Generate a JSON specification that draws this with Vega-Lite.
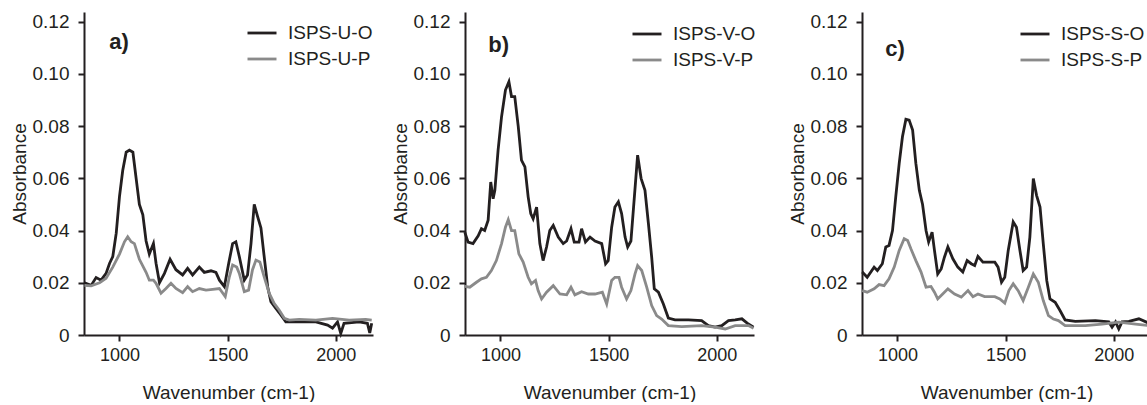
{
  "$schema": "https://vega.github.io/schema/vega-lite/v6.json",
  "background": "white",
  "padding": {"left": 10, "top": 12, "right": 0, "bottom": 0},
  "autosize": {"type": "pad"},
  "config": {
    "view": {"stroke": null},
    "font": "Liberation Sans",
    "axis": {"grid": false, "domainColor": "#231f20", "tickColor": "#231f20", "domainWidth": 2, "tickWidth": 2, "tickSize": 6,
      "labelFont": "Liberation Sans", "labelFontSize": 18, "labelColor": "#231f20",
      "titleFont": "Liberation Sans", "titleFontSize": 19, "titleFontWeight": "normal", "titleColor": "#231f20"},
    "axisX": {"labelPadding": 5, "titlePadding": 19},
    "axisY": {"labelPadding": 9, "titlePadding": 3, "labelFontSize": 19},
    "legend": {"symbolType": "stroke", "symbolSize": 841, "symbolStrokeWidth": 2.8, "labelFont": "Liberation Sans", "labelFontSize": 19,
      "labelColor": "#231f20", "labelOffset": 10, "rowPadding": -3, "padding": 0}
  },
  "datasets": {
    "a": [
      {"wn":838,"abs":0.0200,"sample":"ISPS-U-O"},{"wn":869,"abs":0.0190,"sample":"ISPS-U-O"},{"wn":892,"abs":0.0220,"sample":"ISPS-U-O"},{"wn":915,"abs":0.0210,"sample":"ISPS-U-O"},{"wn":938,"abs":0.0236,"sample":"ISPS-U-O"},{"wn":954,"abs":0.0274,"sample":"ISPS-U-O"},{"wn":969,"abs":0.0300,"sample":"ISPS-U-O"},{"wn":985,"abs":0.0390,"sample":"ISPS-U-O"},{"wn":1000,"abs":0.0530,"sample":"ISPS-U-O"},{"wn":1015,"abs":0.0630,"sample":"ISPS-U-O"},{"wn":1031,"abs":0.0700,"sample":"ISPS-U-O"},{"wn":1046,"abs":0.0708,"sample":"ISPS-U-O"},{"wn":1062,"abs":0.0700,"sample":"ISPS-U-O"},{"wn":1077,"abs":0.0600,"sample":"ISPS-U-O"},{"wn":1092,"abs":0.0500,"sample":"ISPS-U-O"},{"wn":1108,"abs":0.0460,"sample":"ISPS-U-O"},{"wn":1123,"abs":0.0360,"sample":"ISPS-U-O"},{"wn":1138,"abs":0.0310,"sample":"ISPS-U-O"},{"wn":1157,"abs":0.0350,"sample":"ISPS-U-O"},{"wn":1169,"abs":0.0275,"sample":"ISPS-U-O"},{"wn":1185,"abs":0.0200,"sample":"ISPS-U-O"},{"wn":1208,"abs":0.0236,"sample":"ISPS-U-O"},{"wn":1234,"abs":0.0290,"sample":"ISPS-U-O"},{"wn":1261,"abs":0.0250,"sample":"ISPS-U-O"},{"wn":1292,"abs":0.0230,"sample":"ISPS-U-O"},{"wn":1315,"abs":0.0255,"sample":"ISPS-U-O"},{"wn":1338,"abs":0.0230,"sample":"ISPS-U-O"},{"wn":1369,"abs":0.0260,"sample":"ISPS-U-O"},{"wn":1392,"abs":0.0240,"sample":"ISPS-U-O"},{"wn":1423,"abs":0.0246,"sample":"ISPS-U-O"},{"wn":1446,"abs":0.0240,"sample":"ISPS-U-O"},{"wn":1462,"abs":0.0210,"sample":"ISPS-U-O"},{"wn":1485,"abs":0.0185,"sample":"ISPS-U-O"},{"wn":1505,"abs":0.0275,"sample":"ISPS-U-O"},{"wn":1523,"abs":0.0350,"sample":"ISPS-U-O"},{"wn":1538,"abs":0.0357,"sample":"ISPS-U-O"},{"wn":1554,"abs":0.0300,"sample":"ISPS-U-O"},{"wn":1577,"abs":0.0210,"sample":"ISPS-U-O"},{"wn":1592,"abs":0.0230,"sample":"ISPS-U-O"},{"wn":1608,"abs":0.0350,"sample":"ISPS-U-O"},{"wn":1623,"abs":0.0500,"sample":"ISPS-U-O"},{"wn":1638,"abs":0.0455,"sample":"ISPS-U-O"},{"wn":1654,"abs":0.0410,"sample":"ISPS-U-O"},{"wn":1669,"abs":0.0300,"sample":"ISPS-U-O"},{"wn":1685,"abs":0.0185,"sample":"ISPS-U-O"},{"wn":1700,"abs":0.0128,"sample":"ISPS-U-O"},{"wn":1723,"abs":0.0102,"sample":"ISPS-U-O"},{"wn":1746,"abs":0.0077,"sample":"ISPS-U-O"},{"wn":1769,"abs":0.0050,"sample":"ISPS-U-O"},{"wn":1831,"abs":0.0050,"sample":"ISPS-U-O"},{"wn":1908,"abs":0.0050,"sample":"ISPS-U-O"},{"wn":1962,"abs":0.0038,"sample":"ISPS-U-O"},{"wn":1985,"abs":0.0026,"sample":"ISPS-U-O"},{"wn":2008,"abs":0.0050,"sample":"ISPS-U-O"},{"wn":2023,"abs":0.0006,"sample":"ISPS-U-O"},{"wn":2038,"abs":0.0045,"sample":"ISPS-U-O"},{"wn":2108,"abs":0.0050,"sample":"ISPS-U-O"},{"wn":2146,"abs":0.0045,"sample":"ISPS-U-O"},{"wn":2157,"abs":0.0008,"sample":"ISPS-U-O"},{"wn":2166,"abs":0.0045,"sample":"ISPS-U-O"},
      {"wn":838,"abs":0.0190,"sample":"ISPS-U-P"},{"wn":869,"abs":0.0188,"sample":"ISPS-U-P"},{"wn":908,"abs":0.0200,"sample":"ISPS-U-P"},{"wn":938,"abs":0.0217,"sample":"ISPS-U-P"},{"wn":969,"abs":0.0260,"sample":"ISPS-U-P"},{"wn":1000,"abs":0.0310,"sample":"ISPS-U-P"},{"wn":1023,"abs":0.0357,"sample":"ISPS-U-P"},{"wn":1038,"abs":0.0376,"sample":"ISPS-U-P"},{"wn":1054,"abs":0.0357,"sample":"ISPS-U-P"},{"wn":1069,"abs":0.0350,"sample":"ISPS-U-P"},{"wn":1092,"abs":0.0290,"sample":"ISPS-U-P"},{"wn":1123,"abs":0.0240,"sample":"ISPS-U-P"},{"wn":1138,"abs":0.0210,"sample":"ISPS-U-P"},{"wn":1157,"abs":0.0210,"sample":"ISPS-U-P"},{"wn":1169,"abs":0.0198,"sample":"ISPS-U-P"},{"wn":1192,"abs":0.0160,"sample":"ISPS-U-P"},{"wn":1215,"abs":0.0178,"sample":"ISPS-U-P"},{"wn":1238,"abs":0.0198,"sample":"ISPS-U-P"},{"wn":1261,"abs":0.0178,"sample":"ISPS-U-P"},{"wn":1292,"abs":0.0162,"sample":"ISPS-U-P"},{"wn":1315,"abs":0.0185,"sample":"ISPS-U-P"},{"wn":1338,"abs":0.0166,"sample":"ISPS-U-P"},{"wn":1369,"abs":0.0178,"sample":"ISPS-U-P"},{"wn":1400,"abs":0.0172,"sample":"ISPS-U-P"},{"wn":1431,"abs":0.0175,"sample":"ISPS-U-P"},{"wn":1462,"abs":0.0178,"sample":"ISPS-U-P"},{"wn":1489,"abs":0.0147,"sample":"ISPS-U-P"},{"wn":1508,"abs":0.0223,"sample":"ISPS-U-P"},{"wn":1523,"abs":0.0268,"sample":"ISPS-U-P"},{"wn":1542,"abs":0.0260,"sample":"ISPS-U-P"},{"wn":1554,"abs":0.0236,"sample":"ISPS-U-P"},{"wn":1577,"abs":0.0166,"sample":"ISPS-U-P"},{"wn":1597,"abs":0.0172,"sample":"ISPS-U-P"},{"wn":1615,"abs":0.0250,"sample":"ISPS-U-P"},{"wn":1631,"abs":0.0287,"sample":"ISPS-U-P"},{"wn":1649,"abs":0.0280,"sample":"ISPS-U-P"},{"wn":1669,"abs":0.0223,"sample":"ISPS-U-P"},{"wn":1692,"abs":0.0160,"sample":"ISPS-U-P"},{"wn":1715,"abs":0.0121,"sample":"ISPS-U-P"},{"wn":1738,"abs":0.0096,"sample":"ISPS-U-P"},{"wn":1762,"abs":0.0064,"sample":"ISPS-U-P"},{"wn":1785,"abs":0.0057,"sample":"ISPS-U-P"},{"wn":1831,"abs":0.0060,"sample":"ISPS-U-P"},{"wn":1908,"abs":0.0057,"sample":"ISPS-U-P"},{"wn":1985,"abs":0.0064,"sample":"ISPS-U-P"},{"wn":2062,"abs":0.0057,"sample":"ISPS-U-P"},{"wn":2138,"abs":0.0060,"sample":"ISPS-U-P"},{"wn":2166,"abs":0.0057,"sample":"ISPS-U-P"}
    ],
    "b": [
      {"wn":835,"abs":0.0394,"sample":"ISPS-V-O"},{"wn":850,"abs":0.0356,"sample":"ISPS-V-O"},{"wn":873,"abs":0.0350,"sample":"ISPS-V-O"},{"wn":897,"abs":0.0380,"sample":"ISPS-V-O"},{"wn":912,"abs":0.0407,"sample":"ISPS-V-O"},{"wn":927,"abs":0.0400,"sample":"ISPS-V-O"},{"wn":943,"abs":0.0440,"sample":"ISPS-V-O"},{"wn":955,"abs":0.0586,"sample":"ISPS-V-O"},{"wn":966,"abs":0.0522,"sample":"ISPS-V-O"},{"wn":974,"abs":0.0554,"sample":"ISPS-V-O"},{"wn":989,"abs":0.0708,"sample":"ISPS-V-O"},{"wn":1005,"abs":0.0836,"sample":"ISPS-V-O"},{"wn":1023,"abs":0.0938,"sample":"ISPS-V-O"},{"wn":1039,"abs":0.0970,"sample":"ISPS-V-O"},{"wn":1051,"abs":0.0913,"sample":"ISPS-V-O"},{"wn":1066,"abs":0.0913,"sample":"ISPS-V-O"},{"wn":1082,"abs":0.0800,"sample":"ISPS-V-O"},{"wn":1097,"abs":0.0670,"sample":"ISPS-V-O"},{"wn":1113,"abs":0.0644,"sample":"ISPS-V-O"},{"wn":1128,"abs":0.0529,"sample":"ISPS-V-O"},{"wn":1140,"abs":0.0465,"sample":"ISPS-V-O"},{"wn":1151,"abs":0.0445,"sample":"ISPS-V-O"},{"wn":1167,"abs":0.0490,"sample":"ISPS-V-O"},{"wn":1182,"abs":0.0350,"sample":"ISPS-V-O"},{"wn":1197,"abs":0.0285,"sample":"ISPS-V-O"},{"wn":1213,"abs":0.0337,"sample":"ISPS-V-O"},{"wn":1228,"abs":0.0400,"sample":"ISPS-V-O"},{"wn":1244,"abs":0.0420,"sample":"ISPS-V-O"},{"wn":1267,"abs":0.0375,"sample":"ISPS-V-O"},{"wn":1290,"abs":0.0350,"sample":"ISPS-V-O"},{"wn":1306,"abs":0.0360,"sample":"ISPS-V-O"},{"wn":1326,"abs":0.0407,"sample":"ISPS-V-O"},{"wn":1341,"abs":0.0356,"sample":"ISPS-V-O"},{"wn":1363,"abs":0.0356,"sample":"ISPS-V-O"},{"wn":1375,"abs":0.0407,"sample":"ISPS-V-O"},{"wn":1393,"abs":0.0356,"sample":"ISPS-V-O"},{"wn":1414,"abs":0.0375,"sample":"ISPS-V-O"},{"wn":1437,"abs":0.0360,"sample":"ISPS-V-O"},{"wn":1468,"abs":0.0350,"sample":"ISPS-V-O"},{"wn":1486,"abs":0.0273,"sample":"ISPS-V-O"},{"wn":1498,"abs":0.0285,"sample":"ISPS-V-O"},{"wn":1514,"abs":0.0413,"sample":"ISPS-V-O"},{"wn":1529,"abs":0.0490,"sample":"ISPS-V-O"},{"wn":1545,"abs":0.0510,"sample":"ISPS-V-O"},{"wn":1560,"abs":0.0465,"sample":"ISPS-V-O"},{"wn":1576,"abs":0.0375,"sample":"ISPS-V-O"},{"wn":1588,"abs":0.0337,"sample":"ISPS-V-O"},{"wn":1603,"abs":0.0360,"sample":"ISPS-V-O"},{"wn":1619,"abs":0.0529,"sample":"ISPS-V-O"},{"wn":1634,"abs":0.0689,"sample":"ISPS-V-O"},{"wn":1650,"abs":0.0600,"sample":"ISPS-V-O"},{"wn":1668,"abs":0.0554,"sample":"ISPS-V-O"},{"wn":1684,"abs":0.0426,"sample":"ISPS-V-O"},{"wn":1699,"abs":0.0298,"sample":"ISPS-V-O"},{"wn":1711,"abs":0.0177,"sample":"ISPS-V-O"},{"wn":1730,"abs":0.0164,"sample":"ISPS-V-O"},{"wn":1753,"abs":0.0119,"sample":"ISPS-V-O"},{"wn":1776,"abs":0.0065,"sample":"ISPS-V-O"},{"wn":1807,"abs":0.0058,"sample":"ISPS-V-O"},{"wn":1869,"abs":0.0058,"sample":"ISPS-V-O"},{"wn":1930,"abs":0.0055,"sample":"ISPS-V-O"},{"wn":1961,"abs":0.0036,"sample":"ISPS-V-O"},{"wn":1992,"abs":0.0030,"sample":"ISPS-V-O"},{"wn":2023,"abs":0.0036,"sample":"ISPS-V-O"},{"wn":2054,"abs":0.0055,"sample":"ISPS-V-O"},{"wn":2085,"abs":0.0058,"sample":"ISPS-V-O"},{"wn":2116,"abs":0.0062,"sample":"ISPS-V-O"},{"wn":2146,"abs":0.0042,"sample":"ISPS-V-O"},{"wn":2170,"abs":0.0030,"sample":"ISPS-V-O"},
      {"wn":835,"abs":0.0186,"sample":"ISPS-V-P"},{"wn":858,"abs":0.0183,"sample":"ISPS-V-P"},{"wn":889,"abs":0.0202,"sample":"ISPS-V-P"},{"wn":912,"abs":0.0215,"sample":"ISPS-V-P"},{"wn":935,"abs":0.0221,"sample":"ISPS-V-P"},{"wn":958,"abs":0.0247,"sample":"ISPS-V-P"},{"wn":981,"abs":0.0285,"sample":"ISPS-V-P"},{"wn":1005,"abs":0.0350,"sample":"ISPS-V-P"},{"wn":1023,"abs":0.0413,"sample":"ISPS-V-P"},{"wn":1036,"abs":0.0442,"sample":"ISPS-V-P"},{"wn":1051,"abs":0.0400,"sample":"ISPS-V-P"},{"wn":1066,"abs":0.0400,"sample":"ISPS-V-P"},{"wn":1085,"abs":0.0311,"sample":"ISPS-V-P"},{"wn":1105,"abs":0.0279,"sample":"ISPS-V-P"},{"wn":1128,"abs":0.0221,"sample":"ISPS-V-P"},{"wn":1143,"abs":0.0196,"sample":"ISPS-V-P"},{"wn":1162,"abs":0.0209,"sample":"ISPS-V-P"},{"wn":1174,"abs":0.0170,"sample":"ISPS-V-P"},{"wn":1190,"abs":0.0138,"sample":"ISPS-V-P"},{"wn":1213,"abs":0.0164,"sample":"ISPS-V-P"},{"wn":1244,"abs":0.0189,"sample":"ISPS-V-P"},{"wn":1275,"abs":0.0157,"sample":"ISPS-V-P"},{"wn":1306,"abs":0.0154,"sample":"ISPS-V-P"},{"wn":1326,"abs":0.0183,"sample":"ISPS-V-P"},{"wn":1344,"abs":0.0154,"sample":"ISPS-V-P"},{"wn":1375,"abs":0.0166,"sample":"ISPS-V-P"},{"wn":1406,"abs":0.0157,"sample":"ISPS-V-P"},{"wn":1437,"abs":0.0157,"sample":"ISPS-V-P"},{"wn":1471,"abs":0.0164,"sample":"ISPS-V-P"},{"wn":1491,"abs":0.0119,"sample":"ISPS-V-P"},{"wn":1514,"abs":0.0209,"sample":"ISPS-V-P"},{"wn":1529,"abs":0.0221,"sample":"ISPS-V-P"},{"wn":1548,"abs":0.0221,"sample":"ISPS-V-P"},{"wn":1560,"abs":0.0183,"sample":"ISPS-V-P"},{"wn":1583,"abs":0.0138,"sample":"ISPS-V-P"},{"wn":1603,"abs":0.0170,"sample":"ISPS-V-P"},{"wn":1622,"abs":0.0234,"sample":"ISPS-V-P"},{"wn":1634,"abs":0.0266,"sample":"ISPS-V-P"},{"wn":1653,"abs":0.0247,"sample":"ISPS-V-P"},{"wn":1676,"abs":0.0183,"sample":"ISPS-V-P"},{"wn":1699,"abs":0.0113,"sample":"ISPS-V-P"},{"wn":1722,"abs":0.0074,"sample":"ISPS-V-P"},{"wn":1745,"abs":0.0061,"sample":"ISPS-V-P"},{"wn":1776,"abs":0.0036,"sample":"ISPS-V-P"},{"wn":1838,"abs":0.0032,"sample":"ISPS-V-P"},{"wn":1930,"abs":0.0036,"sample":"ISPS-V-P"},{"wn":1992,"abs":0.0030,"sample":"ISPS-V-P"},{"wn":2039,"abs":0.0023,"sample":"ISPS-V-P"},{"wn":2085,"abs":0.0036,"sample":"ISPS-V-P"},{"wn":2146,"abs":0.0036,"sample":"ISPS-V-P"},{"wn":2170,"abs":0.0026,"sample":"ISPS-V-P"}
    ],
    "c": [
      {"wn":837,"abs":0.0241,"sample":"ISPS-S-O"},{"wn":860,"abs":0.0221,"sample":"ISPS-S-O"},{"wn":892,"abs":0.0260,"sample":"ISPS-S-O"},{"wn":907,"abs":0.0247,"sample":"ISPS-S-O"},{"wn":930,"abs":0.0273,"sample":"ISPS-S-O"},{"wn":946,"abs":0.0337,"sample":"ISPS-S-O"},{"wn":961,"abs":0.0343,"sample":"ISPS-S-O"},{"wn":977,"abs":0.0400,"sample":"ISPS-S-O"},{"wn":992,"abs":0.0529,"sample":"ISPS-S-O"},{"wn":1008,"abs":0.0657,"sample":"ISPS-S-O"},{"wn":1023,"abs":0.0759,"sample":"ISPS-S-O"},{"wn":1039,"abs":0.0826,"sample":"ISPS-S-O"},{"wn":1054,"abs":0.0823,"sample":"ISPS-S-O"},{"wn":1070,"abs":0.0785,"sample":"ISPS-S-O"},{"wn":1085,"abs":0.0657,"sample":"ISPS-S-O"},{"wn":1101,"abs":0.0554,"sample":"ISPS-S-O"},{"wn":1116,"abs":0.0500,"sample":"ISPS-S-O"},{"wn":1132,"abs":0.0400,"sample":"ISPS-S-O"},{"wn":1144,"abs":0.0356,"sample":"ISPS-S-O"},{"wn":1160,"abs":0.0394,"sample":"ISPS-S-O"},{"wn":1171,"abs":0.0324,"sample":"ISPS-S-O"},{"wn":1186,"abs":0.0234,"sample":"ISPS-S-O"},{"wn":1202,"abs":0.0253,"sample":"ISPS-S-O"},{"wn":1217,"abs":0.0298,"sample":"ISPS-S-O"},{"wn":1233,"abs":0.0337,"sample":"ISPS-S-O"},{"wn":1256,"abs":0.0292,"sample":"ISPS-S-O"},{"wn":1279,"abs":0.0260,"sample":"ISPS-S-O"},{"wn":1302,"abs":0.0241,"sample":"ISPS-S-O"},{"wn":1322,"abs":0.0285,"sample":"ISPS-S-O"},{"wn":1341,"abs":0.0273,"sample":"ISPS-S-O"},{"wn":1357,"abs":0.0266,"sample":"ISPS-S-O"},{"wn":1372,"abs":0.0301,"sample":"ISPS-S-O"},{"wn":1395,"abs":0.0279,"sample":"ISPS-S-O"},{"wn":1419,"abs":0.0279,"sample":"ISPS-S-O"},{"wn":1450,"abs":0.0279,"sample":"ISPS-S-O"},{"wn":1465,"abs":0.0260,"sample":"ISPS-S-O"},{"wn":1481,"abs":0.0202,"sample":"ISPS-S-O"},{"wn":1496,"abs":0.0221,"sample":"ISPS-S-O"},{"wn":1512,"abs":0.0324,"sample":"ISPS-S-O"},{"wn":1535,"abs":0.0433,"sample":"ISPS-S-O"},{"wn":1550,"abs":0.0413,"sample":"ISPS-S-O"},{"wn":1566,"abs":0.0324,"sample":"ISPS-S-O"},{"wn":1581,"abs":0.0247,"sample":"ISPS-S-O"},{"wn":1597,"abs":0.0260,"sample":"ISPS-S-O"},{"wn":1612,"abs":0.0375,"sample":"ISPS-S-O"},{"wn":1628,"abs":0.0599,"sample":"ISPS-S-O"},{"wn":1643,"abs":0.0535,"sample":"ISPS-S-O"},{"wn":1659,"abs":0.0490,"sample":"ISPS-S-O"},{"wn":1674,"abs":0.0350,"sample":"ISPS-S-O"},{"wn":1690,"abs":0.0209,"sample":"ISPS-S-O"},{"wn":1705,"abs":0.0138,"sample":"ISPS-S-O"},{"wn":1729,"abs":0.0125,"sample":"ISPS-S-O"},{"wn":1752,"abs":0.0093,"sample":"ISPS-S-O"},{"wn":1775,"abs":0.0058,"sample":"ISPS-S-O"},{"wn":1822,"abs":0.0052,"sample":"ISPS-S-O"},{"wn":1915,"abs":0.0055,"sample":"ISPS-S-O"},{"wn":1977,"abs":0.0050,"sample":"ISPS-S-O"},{"wn":1992,"abs":0.0030,"sample":"ISPS-S-O"},{"wn":2008,"abs":0.0050,"sample":"ISPS-S-O"},{"wn":2023,"abs":0.0023,"sample":"ISPS-S-O"},{"wn":2038,"abs":0.0050,"sample":"ISPS-S-O"},{"wn":2070,"abs":0.0052,"sample":"ISPS-S-O"},{"wn":2116,"abs":0.0062,"sample":"ISPS-S-O"},{"wn":2163,"abs":0.0045,"sample":"ISPS-S-O"},
      {"wn":837,"abs":0.0170,"sample":"ISPS-S-P"},{"wn":860,"abs":0.0164,"sample":"ISPS-S-P"},{"wn":892,"abs":0.0177,"sample":"ISPS-S-P"},{"wn":915,"abs":0.0193,"sample":"ISPS-S-P"},{"wn":938,"abs":0.0189,"sample":"ISPS-S-P"},{"wn":961,"abs":0.0215,"sample":"ISPS-S-P"},{"wn":985,"abs":0.0260,"sample":"ISPS-S-P"},{"wn":1008,"abs":0.0324,"sample":"ISPS-S-P"},{"wn":1031,"abs":0.0369,"sample":"ISPS-S-P"},{"wn":1047,"abs":0.0362,"sample":"ISPS-S-P"},{"wn":1062,"abs":0.0330,"sample":"ISPS-S-P"},{"wn":1085,"abs":0.0285,"sample":"ISPS-S-P"},{"wn":1109,"abs":0.0241,"sample":"ISPS-S-P"},{"wn":1132,"abs":0.0183,"sample":"ISPS-S-P"},{"wn":1155,"abs":0.0186,"sample":"ISPS-S-P"},{"wn":1171,"abs":0.0164,"sample":"ISPS-S-P"},{"wn":1186,"abs":0.0138,"sample":"ISPS-S-P"},{"wn":1209,"abs":0.0157,"sample":"ISPS-S-P"},{"wn":1233,"abs":0.0177,"sample":"ISPS-S-P"},{"wn":1264,"abs":0.0157,"sample":"ISPS-S-P"},{"wn":1295,"abs":0.0145,"sample":"ISPS-S-P"},{"wn":1326,"abs":0.0170,"sample":"ISPS-S-P"},{"wn":1349,"abs":0.0147,"sample":"ISPS-S-P"},{"wn":1372,"abs":0.0157,"sample":"ISPS-S-P"},{"wn":1403,"abs":0.0147,"sample":"ISPS-S-P"},{"wn":1450,"abs":0.0147,"sample":"ISPS-S-P"},{"wn":1473,"abs":0.0138,"sample":"ISPS-S-P"},{"wn":1496,"abs":0.0122,"sample":"ISPS-S-P"},{"wn":1515,"abs":0.0170,"sample":"ISPS-S-P"},{"wn":1535,"abs":0.0196,"sample":"ISPS-S-P"},{"wn":1558,"abs":0.0170,"sample":"ISPS-S-P"},{"wn":1581,"abs":0.0132,"sample":"ISPS-S-P"},{"wn":1605,"abs":0.0183,"sample":"ISPS-S-P"},{"wn":1628,"abs":0.0234,"sample":"ISPS-S-P"},{"wn":1651,"abs":0.0202,"sample":"ISPS-S-P"},{"wn":1674,"abs":0.0132,"sample":"ISPS-S-P"},{"wn":1698,"abs":0.0074,"sample":"ISPS-S-P"},{"wn":1721,"abs":0.0061,"sample":"ISPS-S-P"},{"wn":1744,"abs":0.0055,"sample":"ISPS-S-P"},{"wn":1775,"abs":0.0036,"sample":"ISPS-S-P"},{"wn":1868,"abs":0.0036,"sample":"ISPS-S-P"},{"wn":1946,"abs":0.0042,"sample":"ISPS-S-P"},{"wn":2023,"abs":0.0049,"sample":"ISPS-S-P"},{"wn":2101,"abs":0.0042,"sample":"ISPS-S-P"},{"wn":2163,"abs":0.0036,"sample":"ISPS-S-P"}
    ]
  },
  "spacing": 13,
  "resolve": {"scale": {"color": "independent"}, "legend": {"color": "independent"}},
  "hconcat": [
    {
      "width": 289, "height": 323,
      "layer": [
        {
          "data": {"name": "a"},
          "mark": {"type": "line", "strokeWidth": 2.8, "interpolate": "linear"},
          "encoding": {
            "x": {"field": "wn", "type": "quantitative", "scale": {"domain": [836, 2172], "nice": false, "zero": false}, "axis": {"values": [1000, 1500, 2000], "format": "d", "title": "Wavenumber (cm-1)"}},
            "y": {"field": "abs", "type": "quantitative", "scale": {"domain": [0, 0.1237], "nice": false}, "axis": {"values": [0, 0.02, 0.04, 0.06, 0.08, 0.1, 0.12], "labelExpr": "datum.value === 0 ? '0' : format(datum.value, '.2f')", "title": "Absorbance"}},
            "color": {"field": "sample", "type": "nominal", "scale": {"domain": ["ISPS-U-O", "ISPS-U-P"], "range": ["#231f20", "#8a8a8a"]}, "legend": {"title": null, "orient": "none", "legendX": 162, "legendY": 5}}
          }
        },
        {
          "data": {"values": [{"wn": 953, "abs": 0.1122, "label": "a)"}]},
          "mark": {"type": "text", "align": "left", "baseline": "middle", "fontSize": 22, "fontWeight": "bold", "font": "Liberation Sans", "color": "#231f20"},
          "encoding": {"x": {"field": "wn", "type": "quantitative"}, "y": {"field": "abs", "type": "quantitative"}, "text": {"field": "label"}}
        }
      ]
    },
    {
      "spacing": 28,
      "resolve": {"scale": {"color": "independent"}, "legend": {"color": "independent"}},
      "hconcat": [
        {
          "width": 289, "height": 323,
          "layer": [
            {
              "data": {"name": "b"},
              "mark": {"type": "line", "strokeWidth": 2.8, "interpolate": "linear"},
              "encoding": {
                "x": {"field": "wn", "type": "quantitative", "scale": {"domain": [836, 2172], "nice": false, "zero": false}, "axis": {"values": [1000, 1500, 2000], "format": "d", "title": "Wavenumber (cm-1)"}},
                "y": {"field": "abs", "type": "quantitative", "scale": {"domain": [0, 0.1237], "nice": false}, "axis": {"values": [0, 0.02, 0.04, 0.06, 0.08, 0.1, 0.12], "labelExpr": "datum.value === 0 ? '0' : format(datum.value, '.2f')", "title": "Absorbance"}},
                "color": {"field": "sample", "type": "nominal", "scale": {"domain": ["ISPS-V-O", "ISPS-V-P"], "range": ["#231f20", "#8a8a8a"]}, "legend": {"title": null, "orient": "none", "legendX": 166, "legendY": 6}}
              }
            },
            {
              "data": {"values": [{"wn": 944, "abs": 0.111, "label": "b)"}]},
              "mark": {"type": "text", "align": "left", "baseline": "middle", "fontSize": 22, "fontWeight": "bold", "font": "Liberation Sans", "color": "#231f20"},
              "encoding": {"x": {"field": "wn", "type": "quantitative"}, "y": {"field": "abs", "type": "quantitative"}, "text": {"field": "label"}}
            }
          ]
        },
        {
          "width": 289, "height": 323,
          "layer": [
            {
              "data": {"name": "c"},
              "mark": {"type": "line", "strokeWidth": 2.8, "interpolate": "linear"},
              "encoding": {
                "x": {"field": "wn", "type": "quantitative", "scale": {"domain": [836, 2172], "nice": false, "zero": false}, "axis": {"values": [1000, 1500, 2000], "format": "d", "title": "Wavenumber (cm-1)"}},
                "y": {"field": "abs", "type": "quantitative", "scale": {"domain": [0, 0.1237], "nice": false}, "axis": {"values": [0, 0.02, 0.04, 0.06, 0.08, 0.1, 0.12], "labelExpr": "datum.value === 0 ? '0' : format(datum.value, '.2f')", "title": "Absorbance"}},
                "color": {"field": "sample", "type": "nominal", "scale": {"domain": ["ISPS-S-O", "ISPS-S-P"], "range": ["#231f20", "#8a8a8a"]}, "legend": {"title": null, "orient": "none", "legendX": 157, "legendY": 6}}
              }
            },
            {
              "data": {"values": [{"wn": 944, "abs": 0.1096, "label": "c)"}]},
              "mark": {"type": "text", "align": "left", "baseline": "middle", "fontSize": 22, "fontWeight": "bold", "font": "Liberation Sans", "color": "#231f20"},
              "encoding": {"x": {"field": "wn", "type": "quantitative"}, "y": {"field": "abs", "type": "quantitative"}, "text": {"field": "label"}}
            }
          ]
        }
      ]
    }
  ]
}
